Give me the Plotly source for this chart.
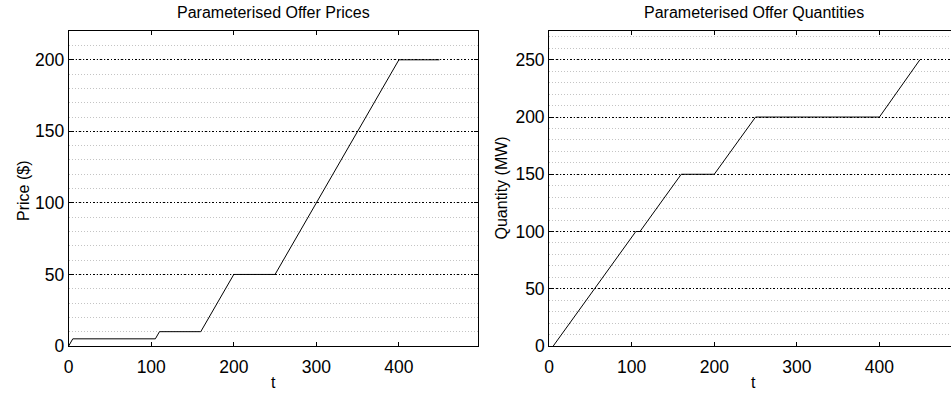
import plotly.graph_objects as go

# Parameterised offer prices
t_price = [0, 5, 105, 110, 160, 200, 250, 400, 449]
price = [0, 5, 5, 10, 10, 50, 50, 200, 200]

# Parameterised offer quantities
t_qty = [5, 105, 110, 160, 200, 250, 400, 449]
qty = [0, 100, 100, 150, 150, 200, 200, 250]

x_ticks = [0, 100, 200, 300, 400]
price_ticks = [0, 50, 100, 150, 200]
qty_ticks = [0, 50, 100, 150, 200, 250]

W, H = 951, 394
FONT = "Liberation Sans, Arial, Helvetica, sans-serif"

fig = go.Figure()
fig.add_trace(go.Scatter(x=t_price, y=price, mode="lines",
                         line=dict(color="black", width=1), xaxis="x", yaxis="y",
                         showlegend=False, hoverinfo="skip"))
fig.add_trace(go.Scatter(x=t_qty, y=qty, mode="lines",
                         line=dict(color="black", width=1), xaxis="x2", yaxis="y2",
                         showlegend=False, hoverinfo="skip"))

def px_x(p):
    return p / W

def px_y(p):
    return 1 - p / H

top, bottom = 32, 355
ydom = [px_y(bottom), px_y(top)]

TICKFONT = dict(family=FONT, size=17.5, color="black")

common_x = dict(showgrid=False, zeroline=False, showline=True, linecolor="black",
                linewidth=1, mirror="ticks", ticks="inside", ticklen=4,
                tickcolor="black", tickfont=TICKFONT, ticklabelstandoff=5,
                tickvals=x_ticks)
common_y = dict(zeroline=False, showline=True, linecolor="black", linewidth=1,
                ticks="inside", ticklen=4, tickcolor="black",
                tickfont=TICKFONT, ticklabelstandoff=0,
                showgrid=True, gridcolor="black", gridwidth=1, griddash="1.5px,2px",
                minor=dict(dtick=10, showgrid=True, gridcolor="#c4c4c4",
                           gridwidth=1, griddash="1px,2px", ticks=""))

fig.update_layout(
    width=W, height=H,
    margin=dict(l=0, r=0, t=0, b=0),
    paper_bgcolor="white", plot_bgcolor="white",
    xaxis=dict(domain=[px_x(64), px_x(475)], range=[0, 495.2], anchor="y", **common_x),
    yaxis=dict(domain=ydom, range=[0, 220], anchor="x", mirror="ticks",
               tickvals=price_ticks, **common_y),
    xaxis2=dict(domain=[px_x(547), 1.0], range=[0, 486.7], anchor="y2", **common_x),
    yaxis2=dict(domain=ydom, range=[0, 275], anchor="x2", mirror=False,
                tickvals=qty_ticks, **common_y),
)

ann_font = dict(family=FONT, size=16, color="black")
annotations = [
    dict(text="Parameterised Offer Prices", x=px_x(269.5), y=px_y(13), yanchor="middle"),
    dict(text="Parameterised Offer Quantities", x=px_x(752.7), y=px_y(13), yanchor="middle"),
    dict(text="t", x=px_x(269.5), y=px_y(392), yanchor="middle"),
    dict(text="t", x=px_x(752.7), y=px_y(392), yanchor="middle"),
    dict(text="Price ($)", x=px_x(18), y=px_y(196), textangle=-90, yanchor="middle"),
    dict(text="Quantity (MW)", x=px_x(499), y=px_y(193), textangle=-90, yanchor="middle"),
]
for a in annotations:
    fig.add_annotation(xref="paper", yref="paper", showarrow=False,
                       xanchor="center", font=ann_font, **a)

fig.write_html("out.html")
